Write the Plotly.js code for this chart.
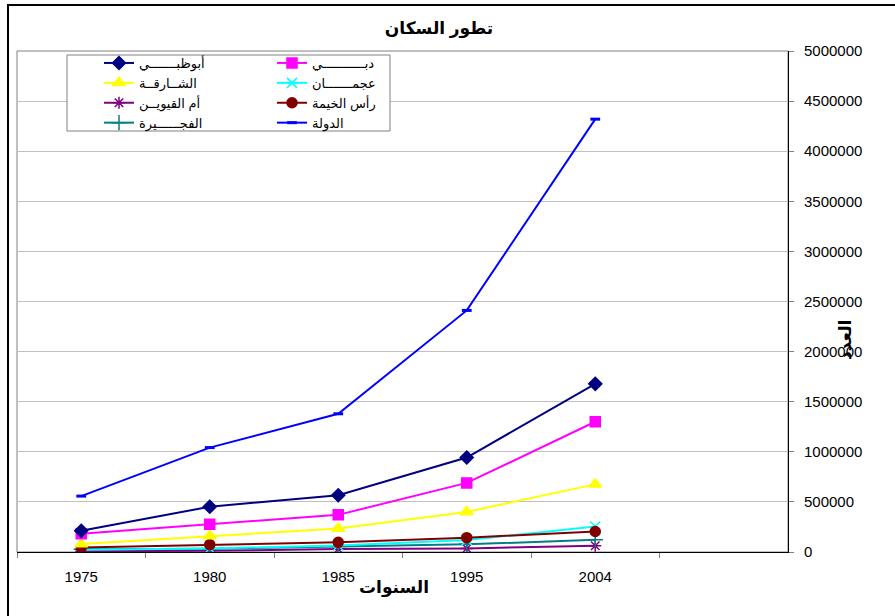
<!DOCTYPE html>
<html>
<head>
<meta charset="utf-8">
<script src="https://cdn.plot.ly/plotly-3.0.1.min.js"></script>
<style>
  html, body { margin: 0; padding: 0; background: #fff; }
  #chart { width: 895px; height: 616px; }
</style>
</head>
<body>
<div id="chart"></div>
<script>
// ---- data ----
const years = ['1975', '1980', '1985', '1995', '2004'];

const abuDhabi  = [211800, 451800, 566000, 942500, 1678000];
const dubai     = [183200, 276300, 370800, 689400, 1300000];
const sharjah   = [78800, 159300, 235000, 400300, 675000];
const ajman     = [21600, 36100, 64300, 118800, 255000];
const ummQuwain = [6900, 12400, 29200, 35200, 62000];
const rasKhaimah= [43800, 73900, 96600, 143300, 205000];
const fujairah  = [26500, 32200, 54400, 76300, 122000];
const total     = [557900, 1042100, 1379300, 2411000, 4320000];

const names = {
  abuDhabi: 'أبوظبـــــــي',
  dubai: 'دبـــــــــــي',
  sharjah: 'الشــارقــة',
  ajman: 'عجمـــــــان',
  ummQuwain: 'أم القيويــن',
  rasKhaimah: 'رأس الخيمة',
  fujairah: 'الفجــــــيرة',
  total: 'الدولة'
};

const yTickVals = [0, 500000, 1000000, 1500000, 2000000, 2500000, 3000000, 3500000, 4000000, 4500000, 5000000];

const FONT = 'Liberation Sans, Arial, DejaVu Sans, sans-serif';

function tr(y, name, color, symbol, size, legend, extraMarker) {
  return {
    x: years, y: y, name: name, type: 'scatter', mode: 'lines+markers',
    line: { color: color, width: 2 },
    marker: Object.assign({ color: color, symbol: symbol, size: size, line: { color: color, width: 1.5 } }, extraMarker || {}),
    legend: legend
  };
}

const traces = [
  tr(total, names.total, '#0000FF', 'line-ew-open', 7, 'legend2', { line: { color: '#0000FF', width: 3 } }),
  tr(ummQuwain, names.ummQuwain, '#800080', 'asterisk-open', 10, 'legend'),
  tr(fujairah, names.fujairah, '#008080', 'cross-thin-open', 11, 'legend'),
  tr(ajman, names.ajman, '#00FFFF', 'x-thin-open', 10, 'legend2'),
  tr(rasKhaimah, names.rasKhaimah, '#800000', 'circle', 10, 'legend2'),
  tr(sharjah, names.sharjah, '#FFFF00', 'triangle-up', 11, 'legend'),
  tr(dubai, names.dubai, '#FF00FF', 'square', 10, 'legend2'),
  tr(abuDhabi, names.abuDhabi, '#000080', 'diamond', 10, 'legend')
];
// legend order within each legend
const rank = {};
[names.abuDhabi, names.sharjah, names.ummQuwain, names.fujairah].forEach((n, i) => rank[n] = i + 1);
[names.dubai, names.ajman, names.rasKhaimah, names.total].forEach((n, i) => rank[n] = i + 1);
traces.forEach(t => t.legendrank = rank[t.name]);

// geometry helpers (pixel -> paper)
const L = 17, R = 788, T = 51, B = 552, W = 895, H = 616;
const px = v => (v - L) / (R - L);
const py = v => (B - v) / (B - T);

const layout = {
  width: W, height: H,
  margin: { l: L, r: W - R, t: T, b: H - B, pad: 0, autoexpand: false },
  paper_bgcolor: '#ffffff', plot_bgcolor: '#ffffff',
  font: { family: FONT, size: 15, color: '#000' },
  showlegend: true,
  title: {
    text: '<b>تطور السكان</b>',
    font: { family: FONT, size: 17, color: '#000' },
    xref: 'container', x: 439 / W, xanchor: 'center',
    yref: 'container', y: 1 - 28 / H, yanchor: 'middle'
  },
  xaxis: {
    type: 'category',
    range: [-0.5, 5.5],
    showgrid: false, zeroline: false,
    showline: true, linecolor: '#000', linewidth: 1,
    ticks: 'outside', tickson: 'boundaries', ticklen: 5, tickcolor: '#808080',
    ticklabelstandoff: 11,
    tickfont: { family: FONT, size: 15, color: '#000' },
    fixedrange: true
  },
  yaxis: {
    side: 'right',
    range: [0, 5000000],
    tickvals: yTickVals, tickformat: 'd',
    showgrid: true, gridcolor: '#c0c0c0', gridwidth: 1,
    zeroline: false,
    showline: true, linecolor: '#000', linewidth: 1,
    ticks: 'outside', ticklen: 5, tickcolor: '#808080',
    ticklabelstandoff: 7,
    tickfont: { family: FONT, size: 15, color: '#000' },
    fixedrange: true
  },
  legend: {
    xref: 'paper', yref: 'paper',
    x: px(99), y: py(48), xanchor: 'left', yanchor: 'top',
    bgcolor: 'rgba(0,0,0,0)', borderwidth: 0,
    font: { family: FONT, size: 13, color: '#000' },
    traceorder: 'normal', tracegroupgap: 0, itemclick: false
  },
  legend2: {
    xref: 'paper', yref: 'paper',
    x: px(272), y: py(48), xanchor: 'left', yanchor: 'top',
    bgcolor: 'rgba(0,0,0,0)', borderwidth: 0,
    font: { family: FONT, size: 13, color: '#000' },
    traceorder: 'normal', tracegroupgap: 0, itemclick: false
  },
  shapes: [
    // plot-area frame (gray, left & top visible)
    { type: 'rect', xref: 'paper', yref: 'paper', x0: 0, x1: 1, y0: 0, y1: 1,
      line: { color: '#808080', width: 1 }, fillcolor: 'rgba(0,0,0,0)', layer: 'below' },
    // legend box
    { type: 'rect', xref: 'paper', yref: 'paper', x0: px(67), x1: px(390), y0: py(131), y1: py(55),
      line: { color: '#808080', width: 1 }, fillcolor: '#ffffff', layer: 'above' },
    // outer chart border
    { type: 'rect', xref: 'paper', yref: 'paper', x0: px(8), x1: px(910), y0: py(630), y1: py(5),
      line: { color: '#000', width: 2 }, fillcolor: 'rgba(0,0,0,0)', layer: 'above' }
  ],
  annotations: [
    { text: '<b>السنوات</b>', xref: 'paper', yref: 'paper', x: px(394), y: py(588),
      xanchor: 'center', yanchor: 'middle', showarrow: false,
      font: { family: FONT, size: 17, color: '#000' } },
    { text: '<b>العدد</b>', xref: 'paper', yref: 'paper', x: px(846), y: py(340),
      xanchor: 'center', yanchor: 'middle', showarrow: false, textangle: -90,
      font: { family: FONT, size: 17, color: '#000' } }
  ]
};

Plotly.newPlot('chart', traces, layout, { displayModeBar: false, staticPlot: true });
</script>
</body>
</html>
